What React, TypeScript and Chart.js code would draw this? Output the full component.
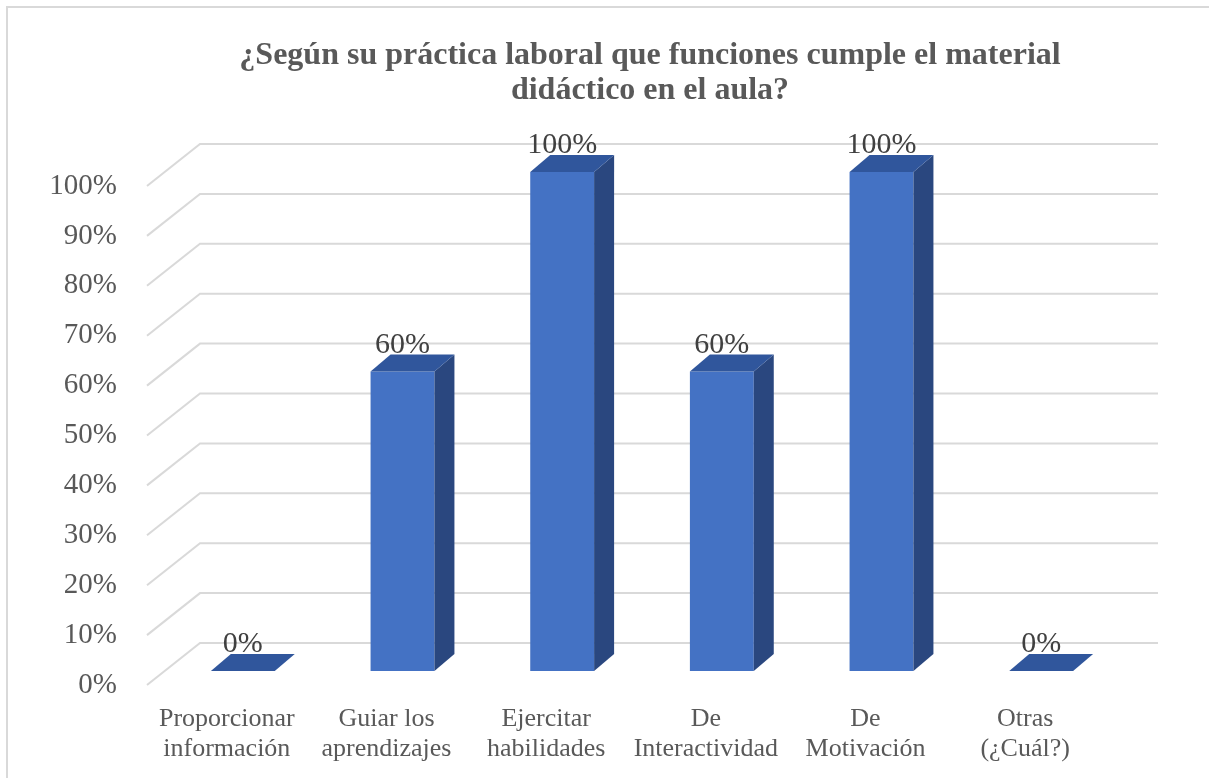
import React, { useEffect, useRef } from "react";
import { Chart, registerables } from "chart.js";

Chart.register(...registerables);

// Survey answers (percentage of respondents per function)
const categories: string[][] = [
  ["Proporcionar", "información"],
  ["Guiar los", "aprendizajes"],
  ["Ejercitar", "habilidades"],
  ["De", "Interactividad"],
  ["De", "Motivación"],
  ["Otras", "(¿Cuál?)"],
];
const values: number[] = [0, 60, 100, 60, 100, 0];
const titleLines: string[] = [
  "¿Según su práctica laboral que funciones cumple el material",
  "didáctico en el aula?",
];
const yMin = 0;
const yMax = 100;
const yStep = 10;

// 3D look: bar depth and the back/front wall offsets relative to the bar plane
const BAR_DX = 20;
const BAR_DY = 17;
const BACK_DX = 37;
const BACK_DY = 28;
const FRONT_DX = 16;
const FRONT_DY = 14;

const FRONT_COLOR = "#4472C4";
const TOP_COLOR = "#30569C";
const SIDE_COLOR = "#2A477F";
const GRID_COLOR = "#D9D9D9";
const AXIS_TEXT = "#595959";
const LABEL_TEXT = "#404040";
const SERIF = "'Liberation Serif', 'Times New Roman', serif";

const framePlugin = {
  id: "frame",
  beforeDraw(chart: any) {
    const { ctx, width, height } = chart;
    ctx.save();
    ctx.fillStyle = "#FFFFFF";
    ctx.fillRect(0, 0, width, height);
    ctx.strokeStyle = GRID_COLOR;
    ctx.lineWidth = 2;
    ctx.beginPath();
    ctx.moveTo(7, height);
    ctx.lineTo(7, 7);
    ctx.lineTo(width, 7);
    ctx.stroke();
    ctx.restore();
  },
};

const wallsPlugin = {
  id: "walls",
  beforeDatasetsDraw(chart: any) {
    const { ctx, chartArea } = chart;
    const y = chart.scales.y;
    ctx.save();
    ctx.strokeStyle = GRID_COLOR;
    ctx.lineWidth = 2;
    for (let v = yMin; v <= yMax; v += yStep) {
      const yp = y.getPixelForValue(v);
      const backY = yp - BACK_DY;
      const frontY = yp + FRONT_DY;
      ctx.beginPath();
      ctx.moveTo(chartArea.left - FRONT_DX, frontY);
      ctx.lineTo(chartArea.left + BACK_DX, backY);
      ctx.lineTo(chartArea.right + BACK_DX, backY);
      ctx.stroke();
    }
    ctx.restore();
  },
};

const boxesPlugin = {
  id: "boxes",
  afterDatasetsDraw(chart: any) {
    const { ctx } = chart;
    const meta = chart.getDatasetMeta(0);
    ctx.save();
    meta.data.forEach((bar: any, i: number) => {
      const { x, y, base, width } = bar.getProps(["x", "y", "base", "width"], true);
      const l = x - width / 2;
      const r = x + width / 2;
      // right side face
      if (base - y > 0.5) {
        ctx.fillStyle = SIDE_COLOR;
        ctx.beginPath();
        ctx.moveTo(r, y);
        ctx.lineTo(r + BAR_DX, y - BAR_DY);
        ctx.lineTo(r + BAR_DX, base - BAR_DY);
        ctx.lineTo(r, base);
        ctx.closePath();
        ctx.fill();
      }
      // top face
      ctx.fillStyle = TOP_COLOR;
      ctx.beginPath();
      ctx.moveTo(l, y);
      ctx.lineTo(r, y);
      ctx.lineTo(r + BAR_DX, y - BAR_DY);
      ctx.lineTo(l + BAR_DX, y - BAR_DY);
      ctx.closePath();
      ctx.fill();
      // value label
      ctx.fillStyle = LABEL_TEXT;
      ctx.font = `30px ${SERIF}`;
      ctx.textAlign = "center";
      ctx.textBaseline = "alphabetic";
      ctx.fillText(`${values[i]}%`, x, y - 19);
    });
    ctx.restore();
  },
};

const titlePlugin = {
  id: "customTitle",
  afterDraw(chart: any) {
    const { ctx } = chart;
    ctx.save();
    ctx.fillStyle = AXIS_TEXT;
    ctx.font = `bold 32px ${SERIF}`;
    ctx.textAlign = "center";
    ctx.textBaseline = "alphabetic";
    titleLines.forEach((line, i) => {
      ctx.fillText(line, 650, 64 + i * 35);
    });
    ctx.restore();
  },
};

export default function App() {
  const canvasRef = useRef<HTMLCanvasElement | null>(null);

  useEffect(() => {
    const canvas = canvasRef.current;
    if (!canvas) return;
    const chart = new Chart(canvas, {
      type: "bar",
      data: {
        labels: categories,
        datasets: [
          {
            data: values,
            backgroundColor: FRONT_COLOR,
            borderWidth: 0,
            categoryPercentage: 1,
            barPercentage: 0.4,
          },
        ],
      },
      options: {
        responsive: false,
        animation: false,
        layout: { padding: { top: 172, right: 88, bottom: 0, left: 0 } },
        plugins: {
          legend: { display: false },
          title: { display: false },
          tooltip: { enabled: false },
        },
        scales: {
          x: {
            grid: { display: false, drawTicks: false },
            border: { display: false },
            ticks: {
              color: AXIS_TEXT,
              font: { family: SERIF, size: 26, lineHeight: 1.15 },
              padding: 33,
              labelOffset: -FRONT_DX,
              maxRotation: 0,
              autoSkip: false,
            },
            afterFit(scale: any) {
              scale.height = 107;
            },
          },
          y: {
            min: yMin,
            max: yMax,
            grid: { display: false, drawTicks: false },
            border: { display: false },
            ticks: {
              stepSize: yStep,
              color: AXIS_TEXT,
              font: { family: SERIF, size: 29 },
              padding: 46,
              labelOffset: FRONT_DY,
              callback: (v: any) => `${v}%`,
            },
            afterFit(scale: any) {
              scale.width = 163;
            },
          },
        },
      },
      plugins: [framePlugin, wallsPlugin, boxesPlugin, titlePlugin],
    });
    return () => chart.destroy();
  }, []);

  return (
    <div style={{ position: "fixed", left: 0, top: 0, width: 1209, height: 778, background: "#fff" }}>
      <canvas ref={canvasRef} width={1209} height={778} style={{ display: "block" }} />
    </div>
  );
}
